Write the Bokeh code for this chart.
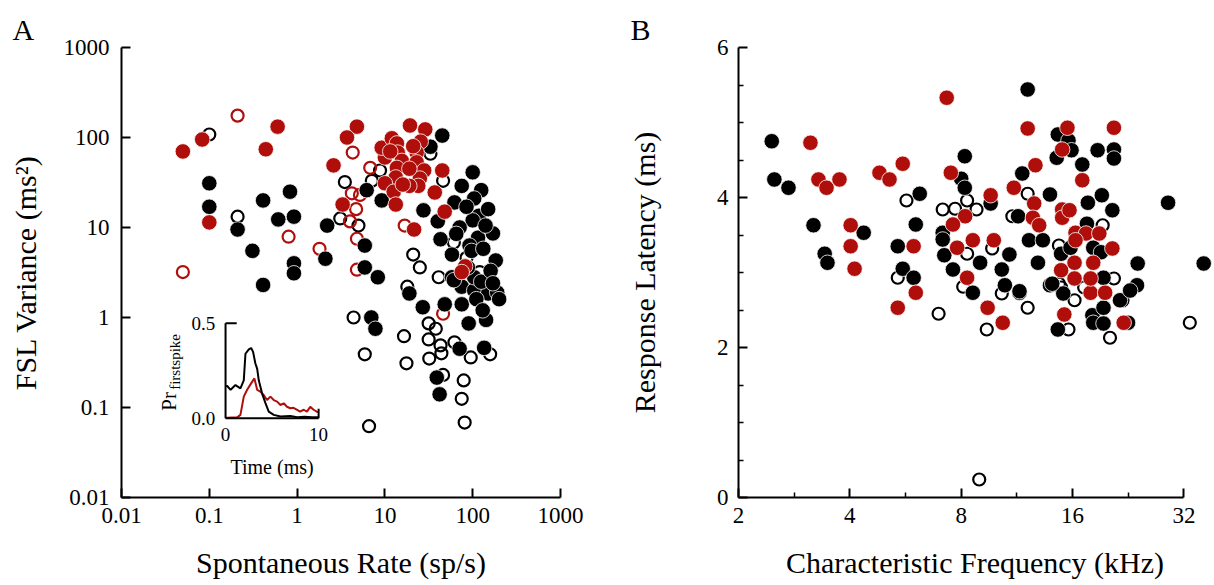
import numpy as np
from bokeh.plotting import figure
from bokeh.layouts import row
from bokeh.models import FixedTicker, CustomJSTickFormatter, Range1d, LinearScale, Title
from bokeh.core.properties import value
from bokeh.embed import file_html
from bokeh.resources import INLINE

FONT = "Liberation Serif"
RED = "#B00E0A"

# ---------------- Panel A data: spontaneous rate (sp/s) vs FSL variance (ms^2)
a_black_fill_x = [0.1, 0.1, 0.21, 0.31, 0.41, 0.41, 0.61, 0.83, 0.92, 0.92, 0.92, 2.2, 2.1,
                  6.2, 9.2, 5.9, 5.9, 8.3, 19, 45, 33, 27.5, 40, 43, 58, 100, 75, 125, 104, 62,
                  118, 100, 71, 115, 170, 92, 183, 75, 104, 150, 190, 58, 27, 48, 75, 90, 142,
                  7, 7.8, 71, 135, 39, 42, 97, 132, 104, 61, 125, 85, 150, 65, 140, 88, 160,
                  170, 110, 130, 200]
a_black_fill_y = [31, 17, 9.5, 5.5, 20, 2.3, 12.3, 25, 13.2, 4.0, 3.1, 10.5, 4.5,
                  26, 20, 6.3, 3.6, 2.8, 1.85, 105, 79, 15.5, 11.7, 7.4, 5.0, 41, 29, 26, 21, 19,
                  13.5, 12, 10, 7.7, 8.6, 6.3, 4.3, 2.2, 2.0, 1.85, 1.9, 2.8, 1.3, 1.4, 1.4, 0.86, 0.94,
                  1.0, 0.75, 0.45, 0.46, 0.215, 0.14, 5.5, 5.8, 2.8, 2.6, 2.5, 17, 16, 8.5, 10.5, 3.6, 3.3,
                  2.4, 1.6, 1.2, 1.6]
a_black_open_x = [0.10, 0.21, 8.8, 3.5, 7.1, 3.1, 5.0, 33, 46, 61, 21, 25, 41, 18, 4.4, 31.5,
                  38, 16.5, 31.5, 43, 62, 158, 95, 32, 44, 5.9, 17.6, 46, 79, 75, 81, 6.6,
                  85, 120, 160]
a_black_open_y = [108, 13.2, 43, 32, 33, 12.6, 10.5, 66, 33, 6.8, 5.0, 3.6, 2.8, 2.2, 1.0, 0.86,
                  0.75, 0.62, 0.57, 0.49, 0.53, 0.39, 0.36, 0.35, 0.40, 0.39, 0.31, 0.23, 0.2, 0.125,
                  0.068, 0.062, 4.6, 3.2, 2.6]
a_red_fill_x = [0.05, 0.083, 0.6, 0.44, 0.1, 4.8, 3.7, 2.6, 3.3, 10, 9.2, 12, 13.7, 14, 15.6,
                13.7, 13.3, 10, 12.6, 13.3, 19.3, 28.8, 25.6, 23, 23, 28, 25, 24, 19, 45, 37,
                21.5, 48, 82, 75, 11.5, 16, 19, 21]
a_red_fill_y = [70, 95, 132, 74, 11.4, 132, 100, 49, 18, 60, 77, 98, 86, 68, 55,
                46, 36, 31, 25, 18, 136, 123, 90, 68, 53, 43, 35, 29, 29, 43, 24.5,
                9.5, 15, 3.7, 3.2, 70, 30, 45, 80]
a_red_open_x = [0.21, 0.8, 0.05, 1.8, 4.3, 6.8, 4.2, 5.2, 4.7, 4.0, 4.8, 4.8, 16.8, 46]
a_red_open_y = [175, 7.9, 3.2, 5.8, 68, 46, 24, 23, 16, 11.7, 7.5, 3.4, 10.5, 1.1]

a_ticks = [0.01, 0.1, 1, 10, 100, 1000]

# inset: first-spike probability vs time (ms)
inset_t_black = [0, 0.18, 0.54, 1.07, 1.6, 1.96, 2.14, 2.5, 2.75, 2.96, 3.2, 3.4, 3.57, 3.93,
                 4.29, 4.64, 5.18, 5.9, 6.96, 7.7, 8.5, 9.3, 10]
inset_p_black = [0.17, 0.17, 0.15, 0.175, 0.158, 0.2, 0.34, 0.363, 0.37, 0.35, 0.29, 0.26, 0.2,
                 0.13, 0.08, 0.035, 0.018, 0.01, 0.012, 0.006, 0.008, 0.005, 0.006]
inset_t_red = [0, 0.18, 1.25, 1.6, 1.96, 2.32, 2.75, 3.1, 3.4, 3.75, 4.1, 4.46, 4.82, 5.18, 5.54,
               5.9, 6.25, 6.6, 6.96, 7.3, 7.7, 8.0, 8.4, 8.75, 9.1, 9.46, 9.8, 10]
inset_p_red = [0.003, 0.003, 0.005, 0.018, 0.114, 0.15, 0.184, 0.21, 0.15, 0.14, 0.123, 0.096,
               0.114, 0.096, 0.088, 0.07, 0.079, 0.061, 0.053, 0.055, 0.044, 0.035, 0.045, 0.035,
               0.061, 0.045, 0.035, 0.033]
inset_t_ticks = [0, 10]
inset_p_ticks = [0.0, 0.5]

# ---------------- Panel B data: characteristic frequency (kHz) vs response latency (ms)
b_black_fill_x = [2.46, 2.5, 2.73, 3.19, 4.36, 3.42, 3.48, 6.18, 5.39, 6.03, 5.56, 5.95, 10.5, 11.5,
                  8.6, 13.9, 14.6, 18.1, 18.2, 21.8, 23.9, 12.1, 14.6, 14.5, 8.18, 8.0, 8.18, 9.61,
                  11.7, 13.9, 7.13, 7.13, 7.2, 9.0, 7.6, 10.8, 10.3, 11.5, 11.4, 12.2, 13.3, 12.9,
                  14.9, 15.1, 15.6, 15.9, 18.7, 20.7, 20.7, 17, 17.6, 19.2, 20.5, 29, 17.5, 15.8,
                  18.2, 19.1, 24.0, 36.2, 14.1, 19.4, 19.4, 21.5, 22.9, 19.4, 22.6]
b_black_fill_y = [4.75, 4.24, 4.13, 3.63, 3.53, 3.25, 3.13, 4.05, 3.35, 3.64, 3.05, 2.93, 2.83, 2.73,
                  2.73, 2.83, 2.24, 2.43, 2.33, 2.63, 2.83, 5.44, 4.84, 4.53, 4.55, 4.25, 4.13, 3.92,
                  4.32, 4.04, 3.53, 3.44, 3.23, 3.13, 3.04, 3.24, 3.04, 2.75, 3.75, 3.43, 3.43, 3.13,
                  3.25, 2.72, 4.76, 4.63, 4.63, 4.64, 4.52, 4.44, 3.93, 4.03, 3.83, 3.93, 3.65, 3.33,
                  3.33, 3.27, 3.12, 3.12, 2.85, 2.93, 2.53, 2.63, 2.76, 2.32, 2.33]
b_black_open_x = [5.69, 5.39, 6.95, 9.38, 12.1, 15.6, 20.2, 33.2, 8.95, 12.1, 7.13, 7.7, 8.3, 8.8,
                  8.3, 8.1, 9.7, 10.3, 11, 14.7, 14.7, 19.3, 14.9, 16.2, 17.2, 20.7]
b_black_open_y = [3.96, 2.93, 2.45, 2.24, 2.53, 2.24, 2.13, 2.33, 0.24, 4.05, 3.84, 3.85, 3.96, 3.84,
                  3.25, 2.81, 3.32, 2.72, 3.75, 3.36, 2.85, 3.63, 2.8, 2.63, 2.8, 2.92]
b_red_fill_x = [3.13, 3.29, 3.46, 3.75, 4.81, 5.12, 5.56, 4.02, 4.02, 4.12, 5.95, 6.03, 5.39, 9.43,
                10.36, 17.9, 19.6, 15.2, 22, 7.31, 12.1, 15.5, 15, 7.5, 9.61, 11.1, 12.7, 8.2, 7.6,
                7.8, 8.6, 8.3, 9.8, 12.6, 12.5, 13, 15, 15, 14.9, 20.7, 17, 15.7, 16.3, 17.4, 18.9,
                16.3, 20.5, 16.2, 18.2, 16.2, 17.9]
b_red_fill_y = [4.73, 4.24, 4.13, 4.24, 4.33, 4.24, 4.45, 3.63, 3.35, 3.05, 3.35, 2.73, 2.53, 2.53,
                2.33, 2.73, 2.73, 2.44, 2.33, 5.33, 4.92, 4.93, 4.64, 4.33, 4.03, 4.13, 4.43, 3.75, 3.64,
                3.33, 3.43, 2.93, 3.43, 3.92, 3.73, 3.63, 3.84, 3.73, 3.03, 4.93, 4.23, 3.83, 3.53, 3.52,
                3.52, 3.43, 3.32, 3.13, 3.13, 2.92, 2.92]
b_x_ticks = [2, 4, 8, 16, 32]
b_x_minor = [2.83, 5.66, 11.31, 22.63]
b_y_ticks = [0, 2, 4, 6]
b_y_minor = [0.5, 1, 1.5, 2.5, 3, 3.5, 4.5, 5, 5.5]


def style(p):
    p.outline_line_color = None
    p.xgrid.visible = False
    p.ygrid.visible = False
    p.background_fill_color = "white"
    p.border_fill_color = "white"


def style_axis(ax, ticks, minor, label, label_standoff, tick_standoff):
    ax.ticker = FixedTicker(ticks=ticks, minor_ticks=minor)
    ax.formatter = CustomJSTickFormatter(code="return String(tick)")
    ax.axis_label = label
    ax.axis_label_text_font = FONT
    ax.axis_label_text_font_style = "normal"
    ax.axis_label_text_font_size = "30px"
    ax.axis_label_text_color = "black"
    ax.axis_label_standoff = label_standoff
    ax.major_label_text_font = FONT
    ax.major_label_text_font_size = "23px"
    ax.major_label_text_color = "black"
    ax.major_label_standoff = tick_standoff
    ax.axis_line_width = 2
    ax.axis_line_color = "black"
    ax.major_tick_line_width = 2
    ax.major_tick_line_color = "black"
    ax.major_tick_in = 9
    ax.major_tick_out = 0
    ax.minor_tick_line_width = 1.5
    ax.minor_tick_line_color = "black"
    ax.minor_tick_in = 5
    ax.minor_tick_out = 0


def scatter_groups(p, open_sets, fill_sets):
    for xs, ys, col in open_sets:
        p.scatter(xs, ys, marker="circle", size=12, fill_color=None, line_color=col, line_width=2.2)
    for xs, ys, col in fill_sets:
        p.scatter(xs, ys, marker="circle", size=15.5, fill_color=col, line_color="white", line_width=0.8)


def panel_letter(p, letter, offset):
    p.add_layout(Title(text=letter, align="left", offset=offset, standoff=4,
                       text_font=FONT, text_font_size="30px", text_font_style="normal",
                       text_color="black"), "above")


# ================= Panel A
pA = figure(width=620, height=585, x_axis_type="log", y_axis_type="log",
            x_range=Range1d(0.01, 1000), y_range=Range1d(0.01, 1000),
            output_backend="svg", toolbar_location=None,
            min_border_left=121, min_border_right=60, min_border_top=47, min_border_bottom=88)
style(pA)
style_axis(pA.xaxis[0], a_ticks, [], "Spontaneous Rate (sp/s)", 20, 10)
style_axis(pA.yaxis[0], a_ticks, [], "FSL Variance (ms\u00b2)", 19, 12)

scatter_groups(pA,
               [(a_black_open_x, a_black_open_y, "black"), (a_red_open_x, a_red_open_y, RED)],
               [(a_black_fill_x, a_black_fill_y, "black"), (a_red_fill_x, a_red_fill_y, RED)])

# inset placed with its own linear scales inside panel A's frame
inset_left, inset_bottom, inset_w, inset_h = 0.237, 0.176, 0.212, 0.211  # fractions of frame
t0, t1 = inset_t_ticks
q0, q1 = inset_p_ticks
ix0 = t0 - (t1 - t0) * inset_left / inset_w
ix1 = ix0 + (t1 - t0) / inset_w
iy0 = q0 - (q1 - q0) * inset_bottom / inset_h
iy1 = iy0 + (q1 - q0) / inset_h
pA.extra_x_ranges = {"inset": Range1d(ix0, ix1)}
pA.extra_y_ranges = {"inset": Range1d(iy0, iy1)}
pA.extra_x_scales = {"inset": LinearScale()}
pA.extra_y_scales = {"inset": LinearScale()}
kw = dict(x_range_name="inset", y_range_name="inset")

pA.line(inset_t_red, inset_p_red, line_color=RED, line_width=2, **kw)
pA.line(inset_t_black, inset_p_black, line_color="black", line_width=2, **kw)
# inset axes
tick_len_t = 0.12 * (t1 - t0)
tick_len_p = 0.1 * (q1 - q0)
pA.segment(x0=[t0, t0, t0, t1], y0=[q0, q0, q1, q0],
           x1=[t0, t1, t0 + tick_len_t, t1], y1=[q1, q0, q1, q0 + tick_len_p],
           line_color="black", line_width=2, **kw)
pA.text(x=[t0 - 0.11 * (t1 - t0)] * 2, y=inset_p_ticks, text=[f"{v:.1f}" for v in inset_p_ticks],
        text_align="right", text_baseline="middle", text_font=value(FONT),
        text_font_size="19px", text_color="black", **kw)
pA.text(x=inset_t_ticks, y=[q0 - 0.1 * (q1 - q0)] * 2, text=[str(v) for v in inset_t_ticks],
        text_align="center", text_baseline="top", text_font=value(FONT),
        text_font_size="19px", text_color="black", **kw)
pA.text(x=[(t0 + t1) / 2], y=[q0 - 0.4 * (q1 - q0)], text=["Time (ms)"],
        text_align="center", text_baseline="top", text_font=value(FONT),
        text_font_size="20px", text_color="black", **kw)
pA.text(x=[t0 - 0.61 * (t1 - t0)], y=[q0 + 0.08 * (q1 - q0)], text=["Pr"], angle=np.pi / 2,
        text_align="left", text_baseline="alphabetic", text_font=value(FONT),
        text_font_size="21px", text_color="black", **kw)
pA.text(x=[t0 - 0.54 * (t1 - t0)], y=[q0 + 0.3 * (q1 - q0)], text=["firstspike"], angle=np.pi / 2,
        text_align="left", text_baseline="alphabetic", text_font=value(FONT),
        text_font_size="15px", text_color="black", **kw)

panel_letter(pA, "A", -109)

# ================= Panel B
pB = figure(width=594, height=585, x_axis_type="log",
            x_range=Range1d(2, 38), y_range=Range1d(0, 6),
            output_backend="svg", toolbar_location=None,
            min_border_left=118, min_border_right=3, min_border_top=47, min_border_bottom=88)
style(pB)
style_axis(pB.xaxis[0], b_x_ticks, b_x_minor, "Characteristic Frequency (kHz)", 20, 10)
style_axis(pB.yaxis[0], b_y_ticks, b_y_minor, "Response Latency (ms)", 53, 10)
pB.xaxis[0].bounds = (b_x_ticks[0], b_x_ticks[-1])
pB.yaxis[0].bounds = (b_y_ticks[0], b_y_ticks[-1])

scatter_groups(pB,
               [(b_black_open_x, b_black_open_y, "black")],
               [(b_black_fill_x, b_black_fill_y, "black"), (b_red_fill_x, b_red_fill_y, RED)])

panel_letter(pB, "B", -108)

layout = row(pA, pB)
open("out.html", "w").write(file_html(layout, INLINE))
